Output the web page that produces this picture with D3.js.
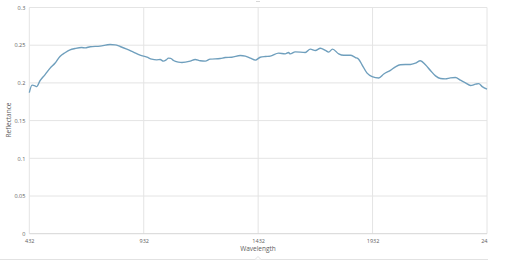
<!DOCTYPE html>
<html>
<head>
<meta charset="utf-8">
<script src="https://cdn.jsdelivr.net/npm/d3@7"></script>
<style>
  body { margin: 0; background: #fff; }
  text { font-family: "Open Sans", "Liberation Sans", sans-serif; fill: #606060; }
</style>
</head>
<body>
<div id="chart1"></div>
<script>
// spectrum
const wavelength = [432, 444, 457, 464, 479, 501, 523, 544, 566, 588, 610, 632, 661, 676, 698, 741,
  785, 807, 829, 858, 887, 916, 946, 967, 989, 1004, 1018, 1030, 1040, 1050, 1062, 1084, 1099, 1135,
  1157, 1179, 1201, 1222, 1266, 1288, 1317, 1354, 1376, 1398, 1420, 1441, 1463, 1485, 1521, 1550,
  1565, 1572, 1594, 1638, 1660, 1682, 1704, 1726, 1740, 1757, 1784, 1806, 1835, 1857, 1871, 1886,
  1908, 1930, 1959, 1981, 2010, 2032, 2053, 2075, 2097, 2119, 2141, 2163, 2185, 2207, 2229, 2250,
  2272, 2294, 2316, 2338, 2360, 2382, 2396, 2411, 2432];
const reflectance = [0.187, 0.197, 0.196, 0.195, 0.203, 0.211, 0.2196, 0.226, 0.235, 0.240, 0.2439,
  0.2456, 0.2469, 0.2465, 0.248, 0.2488, 0.2509, 0.2505, 0.2483, 0.2448, 0.2408, 0.2368, 0.2342,
  0.2315, 0.2306, 0.231, 0.2289, 0.2305, 0.2328, 0.2325, 0.2297, 0.2275, 0.227, 0.2289, 0.231,
  0.2293, 0.2289, 0.2315, 0.2323, 0.2336, 0.234, 0.2363, 0.2355, 0.2328, 0.2302, 0.234, 0.235,
  0.2355, 0.2395, 0.2385, 0.2403, 0.2385, 0.2412, 0.2403, 0.2448, 0.243, 0.246, 0.243, 0.2408,
  0.2448, 0.2385, 0.2366, 0.2366, 0.2336, 0.2315, 0.224, 0.213, 0.2084, 0.2065, 0.2118, 0.2167,
  0.2213, 0.224, 0.2244, 0.2244, 0.2262, 0.2293, 0.224, 0.2164, 0.2093, 0.2058, 0.2054, 0.2067,
  0.2071, 0.2036, 0.2001, 0.1965, 0.1983, 0.1991, 0.1951, 0.1917];
const xTicks = [432, 932, 1432, 1932, 2432];
const yTicks = [0, 0.05, 0.1, 0.15, 0.2, 0.25, 0.3];

const data = wavelength.map(function(w, i){ return {w: w, r: reflectance[i]}; });

const svg = d3.select('#chart1')
      .append('svg')
      .attr('width', 514)
      .attr('height', 262);

// make the scales
const xScale = d3.scaleLinear()
        .domain([432, 2432])
        .range([29.3, 487]);
const yScale = d3.scaleLinear()
        .domain([0, 0.3])
        .range([233.7, 7.5]);

svg.append('clipPath').attr('id', 'cut')
   .append('rect').attr('x', 0).attr('y', 0).attr('width', 488).attr('height', 262);

// grid
svg.append('g').selectAll('line')
   .data(yTicks.slice(1))
   .enter().append('line')
   .attr('x1', xScale(432)).attr('x2', xScale(2432))
   .attr('y1', d => yScale(d)).attr('y2', d => yScale(d))
   .attr('stroke', '#e4e4e4').attr('stroke-width', 1);
svg.append('g').selectAll('line')
   .data(xTicks)
   .enter().append('line')
   .attr('x1', d => xScale(d)).attr('x2', d => xScale(d))
   .attr('y1', yScale(0)).attr('y2', yScale(0.3))
   .attr('stroke', '#e4e4e4').attr('stroke-width', 1);

// axes
const xAxis = d3.axisBottom(xScale).tickValues(xTicks).tickSize(0).tickPadding(5)
                .tickFormat(d3.format('d'));
const yAxis = d3.axisLeft(yScale).tickValues(yTicks).tickSize(0).tickPadding(4)
                .tickFormat(d => String(+d.toFixed(2)));

const xAxisG = svg.append('g')
      .attr('transform', 'translate(0,' + yScale(0) + ')')
      .attr('clip-path', 'url(#cut)')
      .call(xAxis);
const yAxisG = svg.append('g')
      .attr('transform', 'translate(' + xScale(432) + ',0)')
      .call(yAxis);
[xAxisG, yAxisG].forEach(function(g){
  g.select('.domain').remove();
  g.selectAll('text').attr('font-size', 5.5).attr('fill', '#606060')
   .attr('font-family', '"Open Sans", sans-serif');
});
svg.append('line')
   .attr('x1', xScale(432)).attr('x2', xScale(2432))
   .attr('y1', yScale(0)).attr('y2', yScale(0))
   .attr('stroke', '#d6d6d6').attr('stroke-width', 1);

// the spectrum
const line = d3.line()
      .x(d => xScale(d.w))
      .y(d => yScale(d.r))
      .curve(d3.curveMonotoneX);
svg.append('path')
   .datum(data)
   .attr('d', line)
   .attr('fill', 'none')
   .attr('stroke', '#6f9fbd')
   .attr('stroke-width', 1.4);

// axis titles
svg.append('text')
   .attr('x', 258).attr('y', 251)
   .attr('text-anchor', 'middle')
   .attr('font-size', 6.5)
   .attr('fill', '#606060')
   .text('Wavelength');
svg.append('text')
   .attr('transform', 'translate(11,120) rotate(-90)')
   .attr('text-anchor', 'middle')
   .attr('font-size', 6.5)
   .attr('fill', '#606060')
   .text('Reflectance');

// frame bits at the edges
svg.append('line')
   .attr('x1', 0).attr('x2', 488).attr('y1', 259.5).attr('y2', 259.5)
   .attr('stroke', '#e2e2e2').attr('stroke-width', 1);
svg.append('path')
   .attr('d', 'M255,259.5 L258,256.5 L261,259.5')
   .attr('fill', '#fff').attr('stroke', '#e2e2e2');
svg.append('line')
   .attr('x1', 256).attr('x2', 260).attr('y1', 1.5).attr('y2', 1.5)
   .attr('stroke', '#d8d8d8').attr('stroke-width', 1);
</script>
</body>
</html>
